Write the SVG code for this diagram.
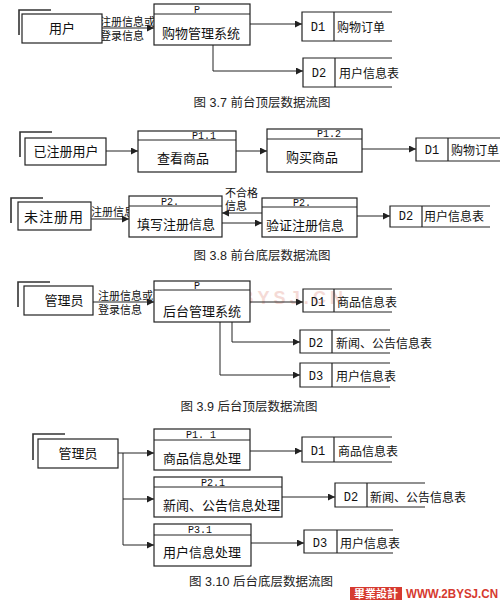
<svg xmlns="http://www.w3.org/2000/svg" width="500" height="600" viewBox="0 0 500 600">
<defs>
<marker id="arr" markerWidth="8" markerHeight="8" refX="7" refY="3.5" orient="auto" markerUnits="userSpaceOnUse">
<path d="M0,0 L7,3.5 L0,7 z" fill="#222"/>
</marker>
<style>
.box{fill:#fff;stroke:#222;stroke-width:1.2}
.ln{fill:none;stroke:#222;stroke-width:1}
.sh{fill:none;stroke:#333;stroke-width:1.6}
.fl{fill:none;stroke:#222;stroke-width:1;marker-end:url(#arr)}
.st{fill:none;stroke:#222;stroke-width:1.2}
.cn{font-family:"Liberation Sans","Noto Sans CJK SC",sans-serif;fill:#111}
.t13{font-size:13px}
.t12{font-size:12px}
.t11{font-size:11px}
.mono{font-family:"Liberation Mono","DejaVu Sans Mono",monospace;font-size:12px;fill:#111}
.pl{font-family:"Liberation Mono","DejaVu Sans Mono",monospace;font-size:10px;fill:#111}
.cap{font-family:"Liberation Sans","Noto Sans CJK SC",sans-serif;font-size:12.5px;fill:#222}
</style>
</defs>
<rect width="500" height="600" fill="#fff"/>

<!-- watermark -->
<text x="155" y="304" textLength="188" lengthAdjust="spacing" font-family="Liberation Sans, sans-serif" font-weight="bold" font-size="18" fill="#f3d2cc" opacity="0.8">WWW.2BYSJ.CN</text>

<g id="connectors">
<!-- fig 3.7 -->
<line class="fl" x1="102" y1="28" x2="154" y2="28"/>
<line class="fl" x1="250" y1="24" x2="302" y2="24"/>
<polyline class="fl" points="213,45 213,71 303,71"/>
<!-- fig 3.8 -->
<line class="fl" x1="106" y1="151" x2="138" y2="151"/>
<line class="fl" x1="236" y1="151" x2="267" y2="151"/>
<line class="fl" x1="362" y1="149" x2="416" y2="149"/>
<line class="fl" x1="91" y1="219" x2="129" y2="219"/>
<line class="fl" x1="262" y1="213" x2="222" y2="213"/>
<line class="fl" x1="222" y1="223" x2="262" y2="223"/>
<line class="fl" x1="357" y1="216" x2="390" y2="216"/>
<!-- fig 3.9 -->
<line class="fl" x1="93" y1="302" x2="154" y2="302"/>
<line class="fl" x1="250" y1="302" x2="303" y2="302"/>
<polyline class="fl" points="232,322 232,342 300,342"/>
<polyline class="fl" points="220,322 220,375 300,375"/>
<!-- fig 3.10 -->
<line class="ln" x1="118" y1="453" x2="123" y2="453"/>
<line class="ln" x1="123" y1="453" x2="123" y2="545"/>
<line class="fl" x1="123" y1="453" x2="154" y2="453"/>
<line class="fl" x1="123" y1="499" x2="154" y2="499"/>
<line class="fl" x1="123" y1="545" x2="154" y2="545"/>
<line class="fl" x1="250" y1="451" x2="302" y2="451"/>
<line class="fl" x1="282" y1="497" x2="335" y2="497"/>
<line class="fl" x1="251" y1="543" x2="304" y2="543"/>
</g>

<!-- flow labels -->
<g id="labels">
<text class="cn t11" x="100" y="26">注册信息或</text>
<text class="cn t11" x="100" y="40">登录信息</text>
<text class="cn t11" x="91" y="216">注册信息</text>
<text class="cn t11" x="225" y="197">不合格</text>
<text class="cn t11" x="225" y="210">信息</text>
<text class="cn t11" x="98" y="300">注册信息或</text>
<text class="cn t11" x="98" y="314">登录信息</text>
</g>

<!-- ===== Fig 3.7 ===== -->
<g id="e-user">
<polyline class="sh" points="19,35 19,10 51,10"/>
<rect class="box" x="22" y="14" width="80" height="29"/>
<text class="cn t13" x="62" y="33" text-anchor="middle">用户</text>
</g>
<g id="p-shop">
<rect class="box" x="154" y="4" width="96" height="41"/>
<line class="ln" x1="154" y1="14" x2="250" y2="14"/>
<text class="pl" x="197" y="13" text-anchor="middle">P</text>
<text class="cn t13" x="201" y="38" text-anchor="middle">购物管理系统</text>
</g>
<g id="d1-order-a">
<path class="st" d="M392,12 H302 V41 H392 M334,12 V41"/>
<text class="mono" x="318" y="31" text-anchor="middle">D1</text>
<text class="cn t12" x="337" y="32">购物订单</text>
</g>
<g id="d2-user-a">
<path class="st" d="M392,58 H303 V87 H392 M335,58 V87"/>
<text class="mono" x="319" y="77" text-anchor="middle">D2</text>
<text class="cn t12" x="339" y="78">用户信息表</text>
</g>
<text class="cap" x="262" y="107" text-anchor="middle">图 3.7 前台顶层数据流图</text>

<!-- ===== Fig 3.8 ===== -->
<g id="e-registered">
<polyline class="sh" points="20,157 20,132 52,132"/>
<rect class="box" x="25" y="138" width="81" height="27"/>
<text class="cn t13" x="66" y="156" text-anchor="middle">已注册用户</text>
</g>
<g id="p11">
<rect class="box" x="138" y="131" width="98" height="41"/>
<line class="ln" x1="138" y1="140" x2="236" y2="140"/>
<text class="pl" x="204" y="139" text-anchor="middle">P1.1</text>
<text class="cn t13" x="183" y="163" text-anchor="middle">查看商品</text>
</g>
<g id="p12">
<rect class="box" x="267" y="129" width="95" height="43"/>
<line class="ln" x1="267" y1="139" x2="362" y2="139"/>
<text class="pl" x="329" y="137" text-anchor="middle">P1.2</text>
<text class="cn t13" x="312" y="162" text-anchor="middle">购买商品</text>
</g>
<g id="d1-order-b">
<path class="st" d="M500,138 H416 V161 H500 M448,138 V161"/>
<text class="mono" x="432" y="154" text-anchor="middle">D1</text>
<text class="cn t12" x="451" y="155">购物订单</text>
</g>
<g id="e-unregistered">
<polyline class="sh" points="11,223 11,198 43,198"/>
<rect class="box" x="18" y="202" width="73" height="28"/>
<text class="cn" x="54" y="222" text-anchor="middle" font-size="14" letter-spacing="1">未注册用</text>
</g>
<g id="p2-fill">
<rect class="box" x="129" y="196" width="93" height="41"/>
<line class="ln" x1="129" y1="206" x2="222" y2="206"/>
<text class="pl" x="170" y="205" text-anchor="middle">P2.</text>
<text class="cn t13" x="176" y="229" text-anchor="middle">填写注册信息</text>
</g>
<g id="p2-verify">
<rect class="box" x="262" y="198" width="95" height="39"/>
<line class="ln" x1="262" y1="207" x2="357" y2="207"/>
<text class="pl" x="302" y="206" text-anchor="middle">P2.</text>
<text class="cn t13" x="305" y="230" text-anchor="middle">验证注册信息</text>
</g>
<g id="d2-user-b">
<path class="st" d="M490,206 H390 V227 H490 M422,206 V227"/>
<text class="mono" x="406" y="220" text-anchor="middle">D2</text>
<text class="cn t12" x="424" y="221">用户信息表</text>
</g>
<text class="cap" x="262" y="260" text-anchor="middle">图 3.8 前台底层数据流图</text>

<!-- ===== Fig 3.9 ===== -->
<g id="e-admin-a">
<polyline class="sh" points="18,307 18,282 50,282"/>
<rect class="box" x="24" y="286" width="69" height="29"/>
<text class="cn t13" x="64" y="305" text-anchor="middle">管理员</text>
</g>
<g id="p-back">
<rect class="box" x="154" y="281" width="96" height="41"/>
<line class="ln" x1="154" y1="290" x2="250" y2="290"/>
<text class="pl" x="197" y="289" text-anchor="middle">P</text>
<text class="cn t13" x="202" y="316" text-anchor="middle">后台管理系统</text>
</g>
<g id="d1-goods-a">
<path class="st" d="M392,289 H303 V312 H392 M334,289 V312"/>
<text class="mono" x="318" y="306" text-anchor="middle">D1</text>
<text class="cn t12" x="337" y="307">商品信息表</text>
</g>
<g id="d2-news-a">
<path class="st" d="M390,330 H300 V353 H390 M332,330 V353"/>
<text class="mono" x="316" y="347" text-anchor="middle">D2</text>
<text class="cn t12" x="336" y="348">新闻、公告信息表</text>
</g>
<g id="d3-user-a">
<path class="st" d="M390,363 H300 V387 H390 M332,363 V387"/>
<text class="mono" x="316" y="380" text-anchor="middle">D3</text>
<text class="cn t12" x="336" y="381">用户信息表</text>
</g>
<text class="cap" x="249" y="411" text-anchor="middle">图 3.9 后台顶层数据流图</text>

<!-- ===== Fig 3.10 ===== -->
<g id="e-admin-b">
<polyline class="sh" points="33,460 33,434 65,434"/>
<rect class="box" x="38" y="439" width="80" height="29"/>
<text class="cn t13" x="78" y="458" text-anchor="middle">管理员</text>
</g>
<g id="p1-1">
<rect class="box" x="154" y="429" width="96" height="41"/>
<line class="ln" x1="154" y1="440" x2="250" y2="440"/>
<text class="pl" x="201" y="438" text-anchor="middle">P1. 1</text>
<text class="cn t13" x="163" y="463">商品信息处理</text>
</g>
<g id="p2-1">
<rect class="box" x="154" y="477" width="128" height="40"/>
<line class="ln" x1="154" y1="487" x2="282" y2="487"/>
<text class="pl" x="213" y="486" text-anchor="middle">P2.1</text>
<text class="cn t13" x="163" y="510">新闻、公告信息处理</text>
</g>
<g id="p3-1">
<rect class="box" x="154" y="524" width="97" height="42"/>
<line class="ln" x1="154" y1="535" x2="251" y2="535"/>
<text class="pl" x="200" y="533" text-anchor="middle">P3.1</text>
<text class="cn t13" x="163" y="557">用户信息处理</text>
</g>
<g id="d1-goods-b">
<path class="st" d="M392,437 H302 V462 H392 M334,437 V462"/>
<text class="mono" x="318" y="455" text-anchor="middle">D1</text>
<text class="cn t12" x="338" y="456">商品信息表</text>
</g>
<g id="d2-news-b">
<path class="st" d="M425,483 H335 V507 H425 M367,483 V507"/>
<text class="mono" x="351" y="501" text-anchor="middle">D2</text>
<text class="cn t12" x="370" y="502">新闻、公告信息表</text>
</g>
<g id="d3-user-b">
<path class="st" d="M393,530 H304 V553 H393 M337,530 V553"/>
<text class="mono" x="320" y="547" text-anchor="middle">D3</text>
<text class="cn t12" x="340" y="548">用户信息表</text>
</g>
<text class="cap" x="261" y="586" text-anchor="middle">图 3.10 后台底层数据流图</text>

<!-- logo -->
<rect x="350" y="587" width="52" height="13" fill="#d63a2f"/>
<text x="376" y="598" text-anchor="middle" font-family="Noto Sans CJK TC, sans-serif" font-weight="bold" font-size="11" fill="#fff">畢業設計</text>
<text x="406" y="598" textLength="92" lengthAdjust="spacingAndGlyphs" font-family="Liberation Sans, sans-serif" font-weight="bold" font-size="12" fill="#d63a2f">WWW.2BYSJ.CN</text>
</svg>
